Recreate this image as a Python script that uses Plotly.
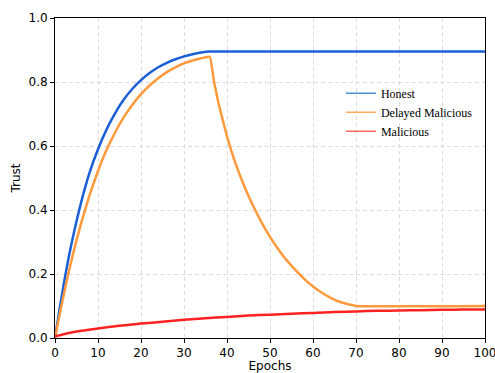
import plotly.graph_objects as go

# Honest
honest_x = [0, 1, 2, 3, 4, 5, 6, 8, 10, 12, 14, 16, 18, 20, 22, 24, 26, 28, 30, 32, 34, 36, 100]
honest_y = [0.0, 0.085, 0.165, 0.24, 0.305, 0.365, 0.42, 0.515, 0.59, 0.652, 0.703, 0.745, 0.779,
            0.806, 0.828, 0.846, 0.86, 0.871, 0.880, 0.887, 0.892, 0.895, 0.895]

# Delayed Malicious
delayed_x = [0, 1, 2, 3, 4, 5, 6, 8, 10, 12, 14, 16, 18, 20, 22, 24, 26, 28, 30, 32, 34, 36,
             37, 38, 40, 42, 44, 46, 48, 50, 52, 54, 56, 58, 60, 62, 64, 66, 68, 70, 100]
delayed_y = [0.0, 0.068, 0.133, 0.195, 0.252, 0.305, 0.355, 0.445, 0.522, 0.588, 0.643, 0.69,
             0.729, 0.762, 0.789, 0.812, 0.831, 0.846, 0.858, 0.867, 0.874, 0.879,
             0.80, 0.735, 0.63, 0.545, 0.475, 0.415, 0.362, 0.316, 0.276, 0.241, 0.211, 0.184,
             0.161, 0.142, 0.126, 0.114, 0.106, 0.10, 0.10]

# Malicious
mal_x = [0, 2, 5, 10, 15, 20, 25, 30, 35, 40, 45, 50, 55, 60, 65, 70, 75, 80, 85, 90, 95, 100]
mal_y = [0.005, 0.012, 0.02, 0.03, 0.038, 0.045, 0.051, 0.057, 0.062, 0.066, 0.07, 0.073, 0.076,
         0.078, 0.081, 0.083, 0.085, 0.086, 0.087, 0.088, 0.089, 0.089]

names = ["Honest", "Delayed Malicious", "Malicious"]
line_colors = ["#1a5fd6", "#ff9a3c", "#ff2222"]
legend_colors = ["#4a90d9", "#ffae5e", "#ff6666"]

fig = go.Figure()
for xs, ys, c in [(honest_x, honest_y, line_colors[0]),
                  (delayed_x, delayed_y, line_colors[1]),
                  (mal_x, mal_y, line_colors[2])]:
    fig.add_trace(go.Scatter(x=xs, y=ys, mode="lines", line=dict(color=c, width=2.5, shape="spline", smoothing=0.3),
                             showlegend=False, hoverinfo="skip"))
for n, c in zip(names, legend_colors):
    fig.add_trace(go.Scatter(x=[None], y=[None], mode="lines", name=n, line=dict(color=c, width=1.5)))

axis_common = dict(
    showline=True, linecolor="black", linewidth=1, mirror=True,
    ticks="outside", ticklen=4, tickcolor="black", tickwidth=1,
    showgrid=True, gridcolor="#dcdcdc", griddash="4px,3px", gridwidth=1,
    zeroline=False, automargin=False, ticklabeloverflow="allow",
    tickfont=dict(family="DejaVu Sans", size=12, color="black"),
)
fig.update_xaxes(range=[0, 100], dtick=10,
                 title=dict(text="Epochs", font=dict(family="DejaVu Sans", size=12, color="black"), standoff=7),
                 **axis_common)
fig.update_yaxes(range=[0, 1.0], dtick=0.2, tickformat=".1f",
                 title=dict(text="Trust", font=dict(family="DejaVu Sans", size=12, color="black"), standoff=5),
                 **axis_common)

fig.update_layout(
    width=495, height=373,
    margin=dict(l=55, r=10, t=18, b=35),
    plot_bgcolor="white", paper_bgcolor="white",
    legend=dict(x=0.665, y=0.81, xanchor="left", yanchor="top", bgcolor="rgba(0,0,0,0)",
                font=dict(family="Liberation Serif", size=12, color="black"),
                tracegroupgap=0, itemwidth=30),
)
fig.write_html("out.html")
